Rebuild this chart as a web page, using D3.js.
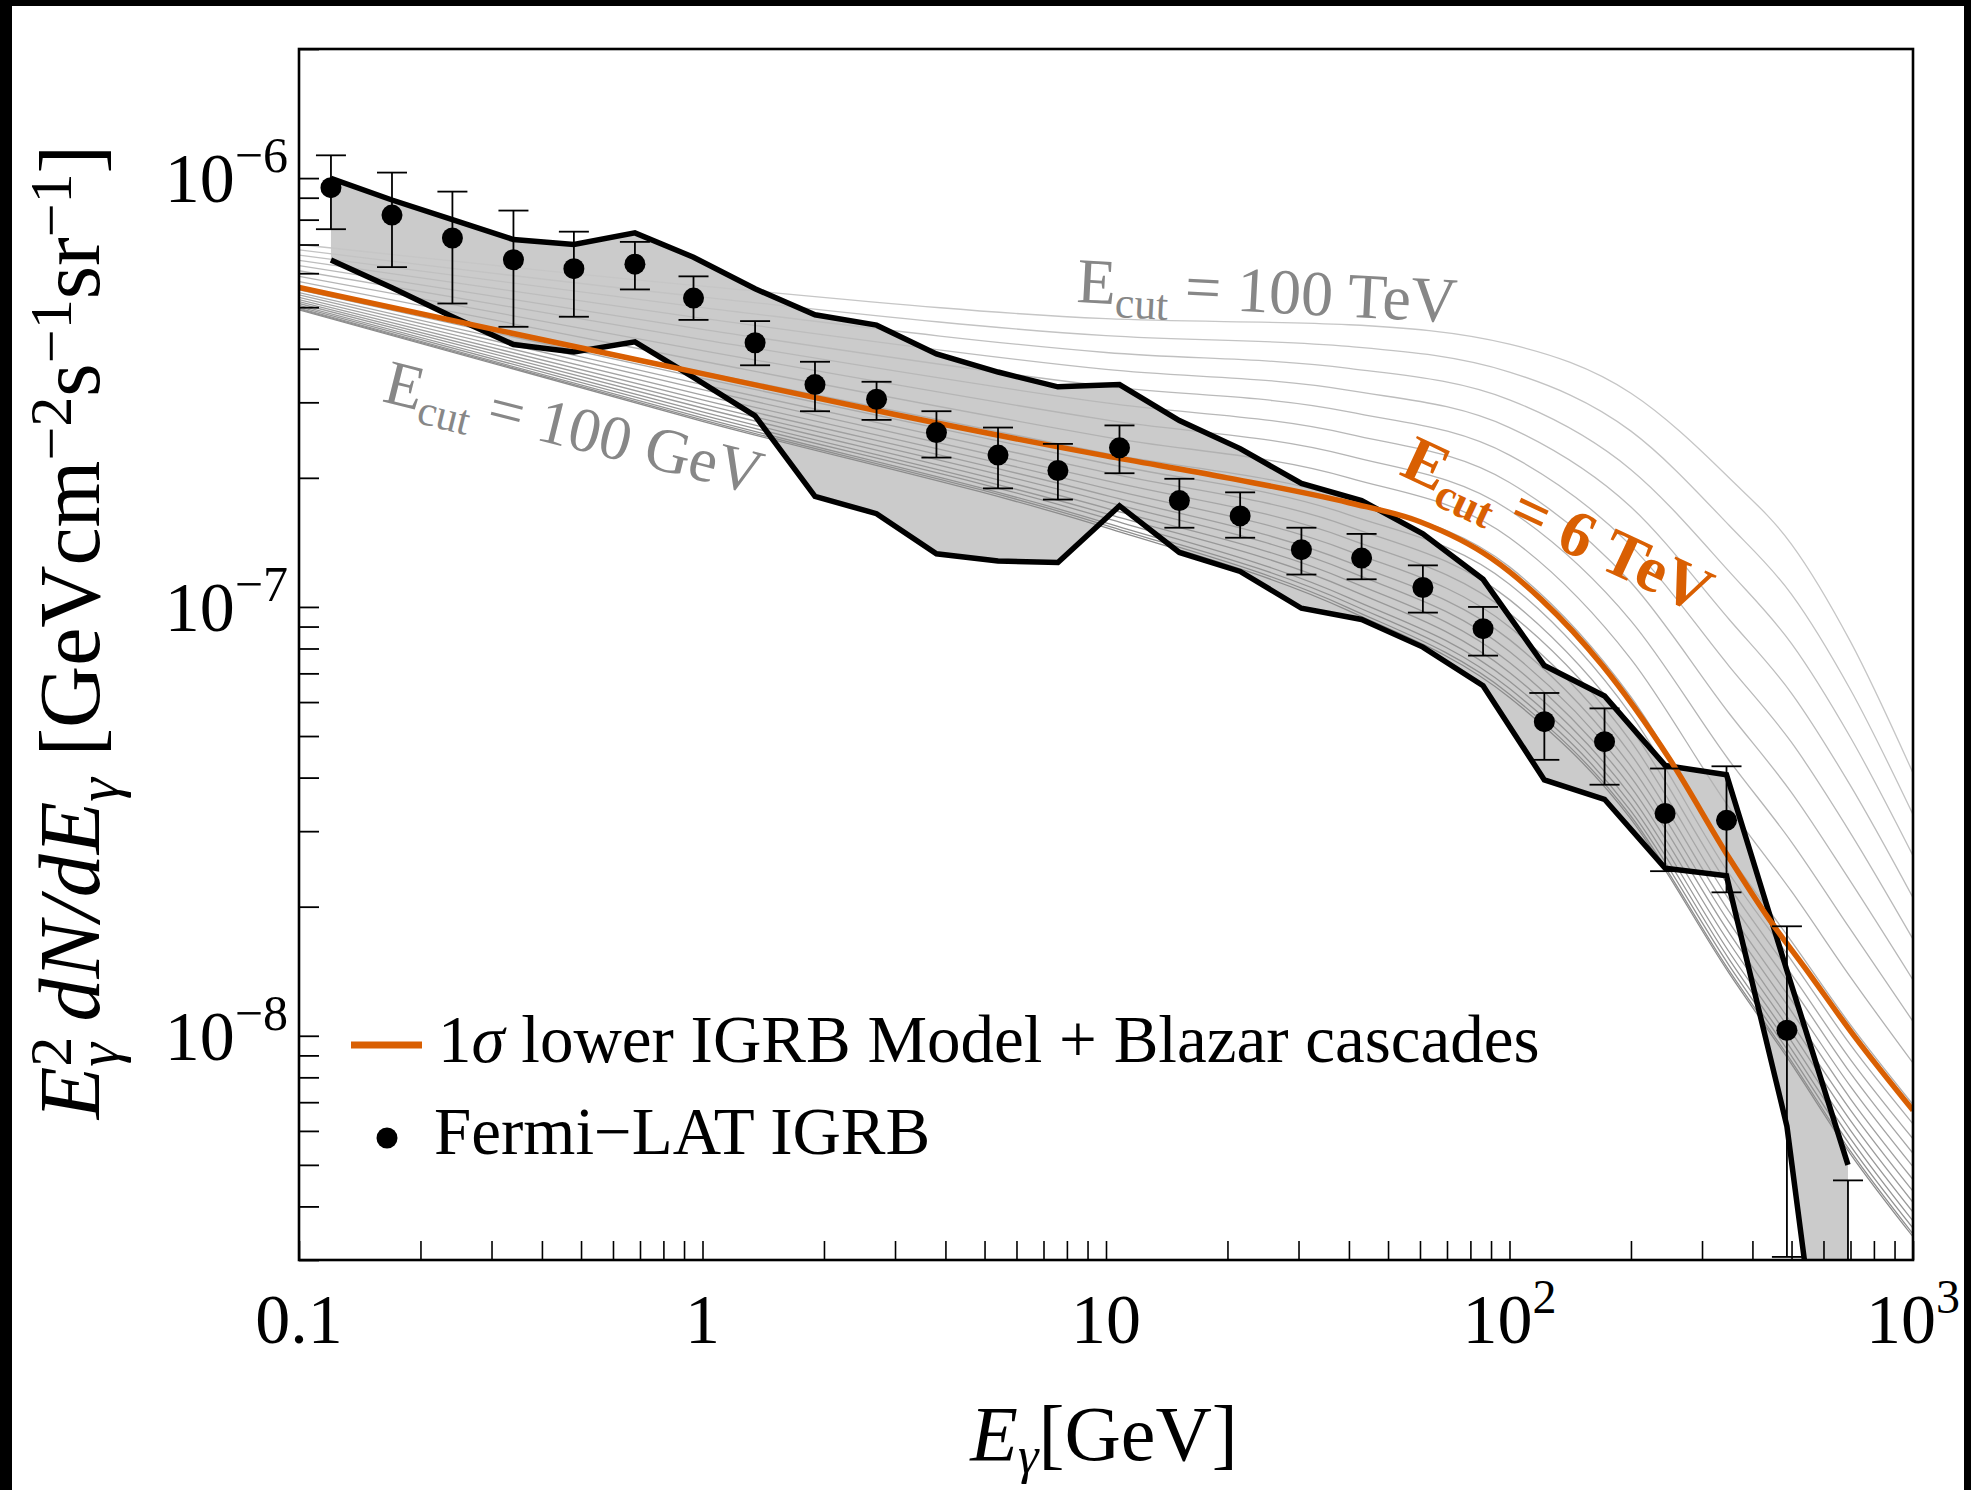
<!DOCTYPE html>
<html>
<head>
<meta charset="utf-8">
<script src="https://d3js.org/d3.v7.min.js"></script>
<style>
  body { margin: 0; background: #000; }
  svg text { font-family: "Liberation Serif", "DejaVu Serif", serif; }
</style>
</head>
<body>
<div id="mainer"></div>
<script>
// ---- data ----
// Fermi-LAT IGRB points (GeV, GeV cm^-2 s^-1 sr^-1)
const pointE  = [0.12, 0.17, 0.24, 0.34, 0.48, 0.68, 0.95, 1.35, 1.9, 2.7, 3.8, 5.4, 7.6,
                 10.8, 15.2, 21.5, 30.5, 43, 61, 86, 122, 172, 243, 345, 487, 690];
const pointY  = [9.5e-7, 8.2e-7, 7.25e-7, 6.45e-7, 6.15e-7, 6.3e-7, 5.25e-7, 4.13e-7, 3.3e-7, 3.05e-7,
                 2.55e-7, 2.26e-7, 2.08e-7, 2.35e-7, 1.77e-7, 1.63e-7, 1.36e-7, 1.3e-7, 1.11e-7, 8.9e-8,
                 5.4e-8, 4.85e-8, 3.3e-8, 3.18e-8, 1.03e-8, 1.8e-9];
const pointHi = [1.13e-6, 1.03e-6, 9.3e-7, 8.4e-7, 7.5e-7, 7.1e-7, 5.9e-7, 4.64e-7, 3.73e-7, 3.35e-7,
                 2.86e-7, 2.62e-7, 2.4e-7, 2.65e-7, 1.99e-7, 1.85e-7, 1.53e-7, 1.48e-7, 1.25e-7, 1.0e-7,
                 6.3e-8, 5.8e-8, 4.2e-8, 4.25e-8, 1.8e-8, 4.6e-9];
const pointLo = [7.6e-7, 6.2e-7, 5.1e-7, 4.5e-7, 4.75e-7, 5.5e-7, 4.67e-7, 3.66e-7, 2.86e-7, 2.73e-7,
                 2.23e-7, 1.89e-7, 1.78e-7, 2.05e-7, 1.53e-7, 1.45e-7, 1.19e-7, 1.16e-7, 9.7e-8, 7.7e-8,
                 4.4e-8, 3.85e-8, 2.42e-8, 2.16e-8, 3.05e-9, 5e-10];

// shaded band (same energies as the points)
const bandUpper = [9.98e-7, 8.89e-7, 8.0e-7, 7.19e-7, 7.0e-7, 7.45e-7, 6.54e-7, 5.52e-7, 4.8e-7, 4.54e-7,
                   3.89e-7, 3.53e-7, 3.26e-7, 3.3e-7, 2.72e-7, 2.34e-7, 1.94e-7, 1.77e-7, 1.48e-7, 1.16e-7,
                   7.3e-8, 6.2e-8, 4.27e-8, 4.06e-8, 1.42e-8, 5.0e-9];
const bandLower = [6.44e-7, 5.55e-7, 4.75e-7, 4.09e-7, 3.93e-7, 4.15e-7, 3.43e-7, 2.79e-7, 1.81e-7, 1.65e-7,
                   1.33e-7, 1.28e-7, 1.27e-7, 1.72e-7, 1.34e-7, 1.21e-7, 9.93e-8, 9.35e-8, 8.06e-8, 6.55e-8,
                   3.95e-8, 3.56e-8, 2.46e-8, 2.36e-8, 6.15e-9, 5e-10];

// orange model curve (E_cut = 6 TeV)
const orangeE = [0.1, 0.3, 1, 3, 10, 20, 40, 60, 90, 120, 170, 250, 350, 440, 540, 720, 1000];
const orangeY = [5.56e-7, 4.45e-7, 3.5e-7, 2.81e-7, 2.25e-7, 2.0e-7, 1.75e-7, 1.58e-7, 1.3e-7, 1.04e-7,
                 7.3e-8, 4.4e-8, 2.6e-8, 1.87e-8, 1.44e-8, 9.9e-9, 6.7e-9];

// grey family, E_cut = 100 GeV (first row) ... 100 TeV (last row)
const grayE = [0.1, 1, 10, 40, 100, 200, 350, 500, 700, 1000];
const grayCurves = [
  [4.93e-7, 2.71e-7, 1.53e-7, 9.79e-8, 6.15e-8, 3.20e-8, 1.40e-8, 8.59e-9, 5.30e-9, 3.40e-9],
  [4.95e-7, 2.73e-7, 1.55e-7, 9.94e-8, 6.26e-8, 3.25e-8, 1.42e-8, 8.72e-9, 5.38e-9, 3.45e-9],
  [4.97e-7, 2.76e-7, 1.57e-7, 1.02e-7, 6.45e-8, 3.34e-8, 1.46e-8, 8.97e-9, 5.54e-9, 3.56e-9],
  [5.01e-7, 2.80e-7, 1.61e-7, 1.05e-7, 6.71e-8, 3.47e-8, 1.51e-8, 9.30e-9, 5.76e-9, 3.70e-9],
  [5.05e-7, 2.85e-7, 1.65e-7, 1.10e-7, 7.03e-8, 3.62e-8, 1.57e-8, 9.70e-9, 6.02e-9, 3.88e-9],
  [5.10e-7, 2.91e-7, 1.70e-7, 1.15e-7, 7.42e-8, 3.80e-8, 1.65e-8, 1.02e-8, 6.34e-9, 4.09e-9],
  [5.15e-7, 2.97e-7, 1.76e-7, 1.21e-7, 7.87e-8, 4.01e-8, 1.74e-8, 1.07e-8, 6.71e-9, 4.34e-9],
  [5.21e-7, 3.04e-7, 1.82e-7, 1.27e-7, 8.39e-8, 4.25e-8, 1.84e-8, 1.14e-8, 7.13e-9, 4.62e-9],
  [5.27e-7, 3.12e-7, 1.89e-7, 1.35e-7, 8.98e-8, 4.53e-8, 1.95e-8, 1.21e-8, 7.62e-9, 4.95e-9],
  [5.34e-7, 3.21e-7, 1.97e-7, 1.44e-7, 9.67e-8, 4.85e-8, 2.08e-8, 1.30e-8, 8.18e-9, 5.32e-9],
  [5.41e-7, 3.30e-7, 2.06e-7, 1.54e-7, 1.04e-7, 5.20e-8, 2.23e-8, 1.39e-8, 8.80e-9, 5.75e-9],
  [5.49e-7, 3.41e-7, 2.16e-7, 1.64e-7, 1.13e-7, 5.61e-8, 2.39e-8, 1.50e-8, 9.52e-9, 6.23e-9],
  [5.58e-7, 3.53e-7, 2.28e-7, 1.78e-7, 1.24e-7, 6.17e-8, 2.64e-8, 1.66e-8, 1.06e-8, 6.91e-9],
  [5.74e-7, 3.74e-7, 2.49e-7, 2.00e-7, 1.45e-7, 7.56e-8, 3.41e-8, 2.17e-8, 1.37e-8, 8.64e-9],
  [5.90e-7, 3.96e-7, 2.73e-7, 2.25e-7, 1.68e-7, 9.28e-8, 4.39e-8, 2.83e-8, 1.77e-8, 1.08e-8],
  [6.08e-7, 4.20e-7, 2.99e-7, 2.53e-7, 1.95e-7, 1.14e-7, 5.65e-8, 3.69e-8, 2.29e-8, 1.35e-8],
  [6.25e-7, 4.44e-7, 3.27e-7, 2.85e-7, 2.26e-7, 1.39e-7, 7.28e-8, 4.83e-8, 2.97e-8, 1.68e-8],
  [6.43e-7, 4.71e-7, 3.58e-7, 3.20e-7, 2.62e-7, 1.71e-7, 9.36e-8, 6.29e-8, 3.83e-8, 2.10e-8],
  [6.61e-7, 4.99e-7, 3.92e-7, 3.60e-7, 3.04e-7, 2.09e-7, 1.21e-7, 8.21e-8, 4.96e-8, 2.63e-8],
  [6.80e-7, 5.28e-7, 4.29e-7, 4.05e-7, 3.53e-7, 2.57e-7, 1.55e-7, 1.07e-7, 6.41e-8, 3.28e-8],
  [7.00e-7, 5.60e-7, 4.70e-7, 4.55e-7, 4.10e-7, 3.15e-7, 2.00e-7, 1.40e-7, 8.30e-8, 4.10e-8]
];

// tick labels
const xMajor = [0.1, 1, 10, 100, 1000];
const xLabelBase = ["0.1", "1", "10", "10", "10"];
const xLabelSup  = ["", "", "", "2", "3"];
const yMajor = [1e-8, 1e-7, 1e-6];
const yLabelSup = ["\u22128", "\u22127", "\u22126"];

const orange = "#d95f02";

// ---- layout ----
const width = 1971, height = 1490;
const plotL = 299, plotR = 1913, plotT = 49, plotB = 1260;

const svg = d3.select("#mainer").append("svg")
  .attr("width", width).attr("height", height);

svg.append("rect").attr("width", width).attr("height", height).attr("fill", "#000");
svg.append("rect").attr("x", 12).attr("y", 6)
  .attr("width", width - 12 - 7).attr("height", height - 6).attr("fill", "#fff");

const xScale = d3.scaleLog().domain([0.1, 1000]).range([plotL, plotR]);
const yScale = d3.scaleLog().domain([3e-9, 2e-6]).range([plotB, plotT]);

svg.append("clipPath").attr("id", "plotClip").append("rect")
  .attr("x", plotL).attr("y", plotT).attr("width", plotR - plotL).attr("height", plotB - plotT);

const plot = svg.append("g").attr("clip-path", "url(#plotClip)");

// band
const band = pointE.map((e, i) => ({ e: e, hi: bandUpper[i], lo: bandLower[i] }));
plot.append("path")
  .attr("d", d3.area().x(d => xScale(d.e)).y0(d => yScale(d.lo)).y1(d => yScale(d.hi))(band))
  .attr("fill", "#cbcbcb");

// grey curves
const smoothLine = d3.line().x(d => xScale(d[0])).y(d => yScale(d[1])).curve(d3.curveMonotoneX);
const grayColor = d3.interpolateRgb("#8c8c8c", "#c6c6c6");
grayCurves.forEach((row, k) => {
  plot.append("path")
    .attr("d", smoothLine(grayE.map((e, i) => [e, row[i]])))
    .attr("fill", "none")
    .attr("stroke", grayColor(k / (grayCurves.length - 1)))
    .attr("stroke-width", 1.3);
});

// band outlines
const bandLine = d3.line().x(d => xScale(d[0])).y(d => yScale(d[1]));
[bandUpper, bandLower].forEach(arr => {
  plot.append("path")
    .attr("d", bandLine(pointE.map((e, i) => [e, arr[i]])))
    .attr("fill", "none").attr("stroke", "#000")
    .attr("stroke-width", 5.5).attr("stroke-linejoin", "miter");
});

// orange curve
plot.append("path")
  .attr("d", smoothLine(orangeE.map((e, i) => [e, orangeY[i]])))
  .attr("fill", "none").attr("stroke", orange).attr("stroke-width", 5.5);

// error bars and points
const pts = pointE.map((e, i) => ({ e: e, y: pointY[i], hi: pointHi[i], lo: pointLo[i] }));
const eb = plot.selectAll(".eb").data(pts).enter().append("g").attr("class", "eb")
  .attr("stroke", "#000").attr("stroke-width", 1.8);
eb.append("line")
  .attr("x1", d => xScale(d.e)).attr("x2", d => xScale(d.e))
  .attr("y1", d => yScale(d.hi)).attr("y2", d => yScale(d.lo));
eb.append("line")
  .attr("x1", d => xScale(d.e) - 15).attr("x2", d => xScale(d.e) + 15)
  .attr("y1", d => yScale(d.hi)).attr("y2", d => yScale(d.hi));
eb.append("line")
  .attr("x1", d => xScale(d.e) - 15).attr("x2", d => xScale(d.e) + 15)
  .attr("y1", d => yScale(d.lo)).attr("y2", d => yScale(d.lo));
plot.selectAll(".pt").data(pts).enter().append("circle").attr("class", "pt")
  .attr("cx", d => xScale(d.e)).attr("cy", d => yScale(d.y)).attr("r", 10.5)
  .attr("fill", "#000");

// axes (ticks only, inside)
const xAxis = d3.axisBottom(xScale).tickValues(xScale.ticks()).tickSize(-19).tickFormat("");
svg.append("g").attr("transform", `translate(0,${plotB})`).call(xAxis)
  .call(g => g.select(".domain").remove())
  .selectAll("line").attr("stroke", "#000").attr("stroke-width", 1.6);
const yAxis = d3.axisLeft(yScale).tickValues(yScale.ticks()).tickSize(-20).tickFormat("");
svg.append("g").attr("transform", `translate(${plotL},0)`).call(yAxis)
  .call(g => g.select(".domain").remove())
  .selectAll("line").attr("stroke", "#000").attr("stroke-width", 1.8);

svg.append("rect").attr("x", plotL).attr("y", plotT)
  .attr("width", plotR - plotL).attr("height", plotB - plotT)
  .attr("fill", "none").attr("stroke", "#000").attr("stroke-width", 2.6);

// tick labels
xMajor.forEach((v, i) => {
  const t = svg.append("text").attr("x", xScale(v)).attr("y", 1343)
    .attr("text-anchor", "middle").attr("font-size", 70).text(xLabelBase[i]);
  if (xLabelSup[i]) t.append("tspan").attr("font-size", 48).attr("dy", -30).text(xLabelSup[i]);
});
yMajor.forEach((v, i) => {
  const t = svg.append("text").attr("x", 288).attr("y", yScale(v) + 24)
    .attr("text-anchor", "end").attr("font-size", 70).text("10");
  t.append("tspan").attr("font-size", 50).attr("dy", -30).text(yLabelSup[i]);
});

// axis titles
const xt = svg.append("text").attr("x", 1104).attr("y", 1460)
  .attr("text-anchor", "middle").attr("font-size", 78);
xt.append("tspan").attr("font-style", "italic").text("E");
xt.append("tspan").attr("font-style", "italic").attr("font-size", 52).attr("dy", 13).text("\u03b3");
xt.append("tspan").attr("dy", -13).text("[GeV]");

const yt = svg.append("text").attr("transform", "translate(99,632) rotate(-90)")
  .attr("text-anchor", "middle").attr("font-size", 86);
yt.append("tspan").attr("font-style", "italic").text("E");
yt.append("tspan").attr("font-size", 60).attr("dy", -28).text("2");
yt.append("tspan").attr("font-size", 60).attr("font-style", "italic").attr("dx", -30).attr("dy", 47).text("\u03b3");
yt.append("tspan").attr("font-style", "italic").attr("dy", -19).text(" dN/dE");
yt.append("tspan").attr("font-size", 60).attr("font-style", "italic").attr("dy", 19).text("\u03b3");
yt.append("tspan").attr("dy", -19).text(" [GeVcm");
yt.append("tspan").attr("font-size", 60).attr("dy", -28).text("\u22122");
yt.append("tspan").attr("dy", 28).text("s");
yt.append("tspan").attr("font-size", 60).attr("dy", -28).text("\u22121");
yt.append("tspan").attr("dy", 28).text("sr");
yt.append("tspan").attr("font-size", 60).attr("dy", -28).text("\u22121");
yt.append("tspan").attr("dy", 28).text("]");

// curve annotations
function ecutLabel(x, y, angle, size, color, weight, rest) {
  const t = svg.append("text").attr("transform", `translate(${x},${y}) rotate(${angle})`)
    .attr("font-size", size).attr("fill", color).attr("font-weight", weight);
  t.append("tspan").text("E");
  t.append("tspan").attr("font-size", size * 0.68).attr("dy", size * 0.2).text("cut");
  t.append("tspan").attr("dy", -size * 0.2).text(rest);
}
ecutLabel(1076, 302, 3.1, 64, "#878787", "normal", " = 100 TeV");
ecutLabel(381, 401, 14, 63, "#878787", "normal", " = 100 GeV");
ecutLabel(1398, 474, 25, 65, orange, "bold", " = 6 TeV");

// legend
svg.append("line").attr("x1", 351).attr("x2", 422).attr("y1", 1045).attr("y2", 1045)
  .attr("stroke", orange).attr("stroke-width", 7);
const l1 = svg.append("text").attr("x", 438).attr("y", 1062).attr("font-size", 67);
l1.append("tspan").text("1");
l1.append("tspan").attr("font-style", "italic").text("\u03c3");
l1.append("tspan").text(" lower IGRB Model + Blazar cascades");
svg.append("circle").attr("cx", 387).attr("cy", 1138).attr("r", 10.5).attr("fill", "#000");
svg.append("text").attr("x", 434).attr("y", 1154).attr("font-size", 67).text("Fermi\u2212LAT IGRB");
</script>
</body>
</html>
